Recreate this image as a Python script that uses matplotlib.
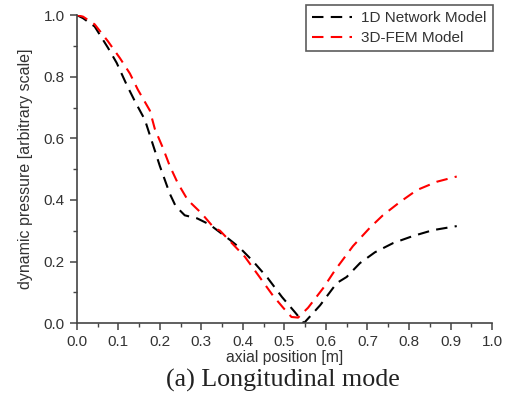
import matplotlib
matplotlib.use("Agg")
import matplotlib.pyplot as plt
from matplotlib.ticker import MultipleLocator, FormatStrFormatter

x_1d = [0.0, 0.015, 0.043, 0.075, 0.096, 0.12, 0.14, 0.164, 0.176, 0.20, 0.224, 0.238, 0.26, 0.29, 0.32,
        0.369, 0.393, 0.425, 0.46, 0.494, 0.525, 0.547, 0.586, 0.626, 0.65, 0.682, 0.718, 0.762,
        0.81, 0.858, 0.915]
y_1d = [1.0, 0.99, 0.963, 0.894, 0.845, 0.774, 0.72, 0.66, 0.61, 0.51, 0.42, 0.38, 0.35, 0.34, 0.32,
        0.27, 0.244, 0.20, 0.146, 0.085, 0.036, 0.0, 0.058, 0.13, 0.15, 0.195, 0.23, 0.26,
        0.283, 0.302, 0.315]

x_3d = [0.0, 0.015, 0.043, 0.075, 0.104, 0.128, 0.147, 0.176, 0.188, 0.207, 0.224, 0.243, 0.267, 0.30,
        0.33, 0.345, 0.405, 0.44, 0.472, 0.497, 0.517, 0.533, 0.557, 0.593, 0.622, 0.665, 0.706,
        0.737, 0.778, 0.819, 0.867, 0.915]
y_3d = [1.0, 0.995, 0.97, 0.915, 0.86, 0.81, 0.758, 0.69, 0.63, 0.57, 0.51, 0.455, 0.40, 0.357,
        0.31, 0.30, 0.215, 0.15, 0.09, 0.05, 0.02, 0.018, 0.05, 0.113, 0.172, 0.25, 0.31,
        0.35, 0.393, 0.432, 0.459, 0.476]

labels = ["1D Network Model", "3D-FEM Model"]

plt.rcParams['font.family'] = ['Liberation Sans', 'DejaVu Sans']
fig = plt.figure(figsize=(5.12, 4.08), dpi=100)
ax = fig.add_axes([0.150, 0.208, 0.811, 0.755])

ax.plot(x_1d, y_1d, color='black', lw=1.5, dashes=(5.5, 3.5), label=labels[0])
ax.plot(x_3d, y_3d, color='#ff0000', lw=1.5, dashes=(5.5, 3.5), label=labels[1])

ax.set_xlim(0, 1.0)
ax.set_ylim(0, 1.0)
ax.xaxis.set_major_locator(MultipleLocator(0.1))
ax.xaxis.set_minor_locator(MultipleLocator(0.05))
ax.yaxis.set_major_locator(MultipleLocator(0.2))
ax.yaxis.set_minor_locator(MultipleLocator(0.1))
ax.xaxis.set_major_formatter(FormatStrFormatter('%.1f'))
ax.yaxis.set_major_formatter(FormatStrFormatter('%.1f'))

for s in ['top', 'right']:
    ax.spines[s].set_visible(False)
for s in ['left', 'bottom']:
    ax.spines[s].set_color('#444444')
    ax.spines[s].set_linewidth(1.2)
ax.tick_params(which='major', direction='out', length=5, width=1.1, color='#444444',
               labelsize=11, labelcolor='#333333')
ax.tick_params(which='minor', direction='out', length=3, width=1.0, color='#444444')

ax.set_xlabel('axial position [m]', fontsize=11.3, color='#333333', labelpad=1)
ax.set_ylabel('dynamic pressure [arbitrary scale]', fontsize=11.5, color='#333333', labelpad=8)

leg = ax.legend(loc='upper right', bbox_to_anchor=(1.002, 1.033), fontsize=11, frameon=True,
                fancybox=False, edgecolor='#333333', borderpad=0.4, handlelength=2.6,
                labelspacing=0.4, handletextpad=0.6, borderaxespad=0)
leg.get_frame().set_linewidth(1.2)
for t in leg.get_texts():
    t.set_color('#333333')

fig.text(0.553, 0.068, '(a) Longitudinal mode', ha='center', va='center',
         fontsize=18.7, family='Liberation Serif', color='#222222')

fig.savefig('out.png', dpi=100)
